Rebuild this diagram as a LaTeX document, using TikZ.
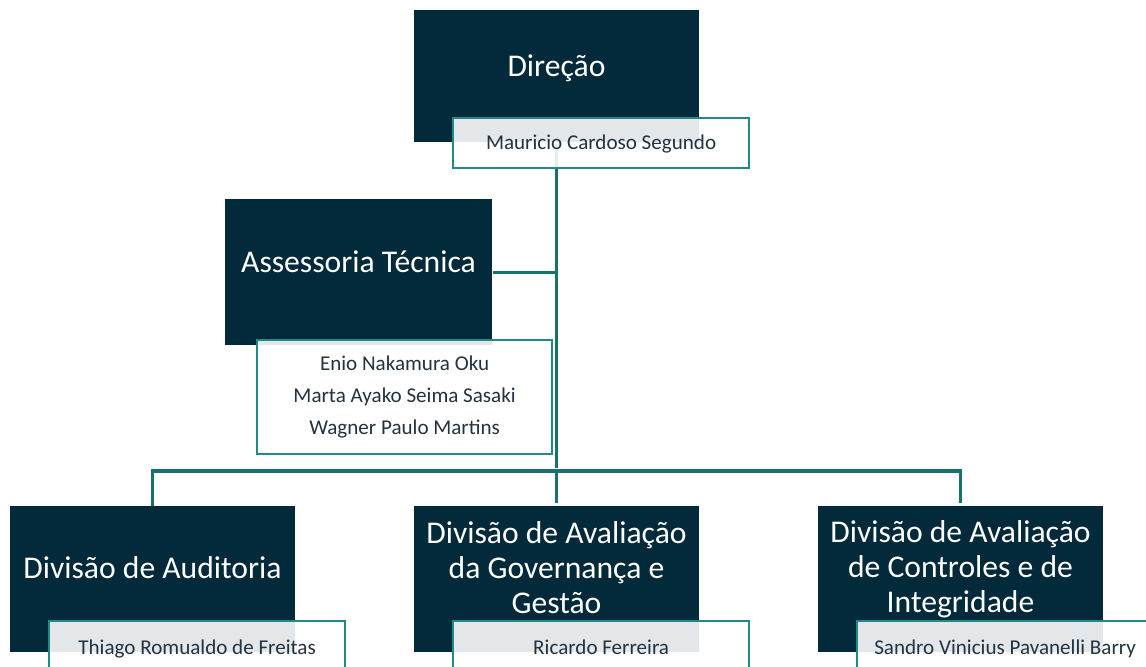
\documentclass[tikz,border=0pt]{standalone}
\usepackage{fontspec}
\setmainfont{Carlito}
\usetikzlibrary{
  positioning,
  calc,
}
\definecolor{boxblue}{HTML}{022A3A}
\definecolor{lineteal}{HTML}{17716F}
\definecolor{frameteal}{HTML}{1F8A86}
\definecolor{nametext}{HTML}{22333F}
\tikzset{
  organigram/.style={
    x=0.02cm,
    y=-0.02cm
  },
  unit box/.style={
    fill=boxblue,
    draw=none,
    anchor=north west,
    inner sep=0mm,
    minimum width=5.7cm,
    minimum height=2.92cm
  },
  unit title/.style={
    text=white,
    font=\fontsize{18}{19.8}\selectfont,
    align=center,
    anchor=base
  },
  name box/.style={
    draw=frameteal,
    line width=1.3pt,
    fill=white,
    fill opacity=0.89,
    text opacity=1,
    text=nametext,
    font=\fontsize{12}{18.4}\selectfont,
    align=center,
    anchor=north west,
    inner sep=0mm,
    minimum width=5.92cm,
    minimum height=1.08cm
  },
  one name/.style={
    text height=0.8em,
    text depth=0.1em
  },
  connector/.style={
    draw=lineteal,
    line width=1.8pt,
    shorten >=1.5pt
  }
}
\begin{document}
\begin{tikzpicture}[organigram]
\useasboundingbox (0,0) rectangle (1146,666);
\clip (0,0) rectangle (1146,666);
% boxes
\node[unit box, minimum height=2.64cm] (dir) at (414,10) {};
\node[unit box, minimum width=5.34cm] (asse) at (225,199) {};
\node[unit box] (audi) at (10,506) {};
\node[unit box] (gov) at (414,506) {};
\node[unit box] (ctrl) at (818,506) {};
\coordinate (hub) at (dir.south |- 0,471);
% connectors
\draw[connector] (dir.south) -- (hub);
\draw[connector, shorten >=0pt] (asse.east) -- (asse.east -| hub);
\draw[connector] (hub) -- (gov.north);
\draw[connector] (audi.north) |- (hub) -| (ctrl.north);
% titles (base = last line)
\node[unit title] (dirtitle) at (556.5,76) {Direção};
\node[unit title] (assetitle) at (358.5,272) {Assessoria Técnica};
\node[unit title] (auditle) at (152.5,578) {Divisão de Auditoria};
\node[unit title] (govtitle) at (556.5,613) {Divisão de Avaliação\\da Governança e\\Gestão};
\node[unit title] (ctrltitle) at (960.5,612) {Divisão de Avaliação\\de Controles e de\\Integridade};
% names
\node[name box, one name, minimum height=1cm] (dirname) at (452,117) {Mauricio Cardoso Segundo};
\node[name box, minimum width=5.9cm, minimum height=2.28cm] (assename) at (256,339)
  {Enio Nakamura Oku\\Marta Ayako Seima Sasaki\\Wagner Paulo Martins};
\node[name box, one name] (audiname) at (48,620) {Thiago Romualdo de Freitas};
\node[name box, one name] (govname) at (452,620) {Ricardo Ferreira};
\node[name box, one name] (ctrlname) at (856,620) {Sandro Vinicius Pavanelli Barry};
\end{tikzpicture}
\end{document}
